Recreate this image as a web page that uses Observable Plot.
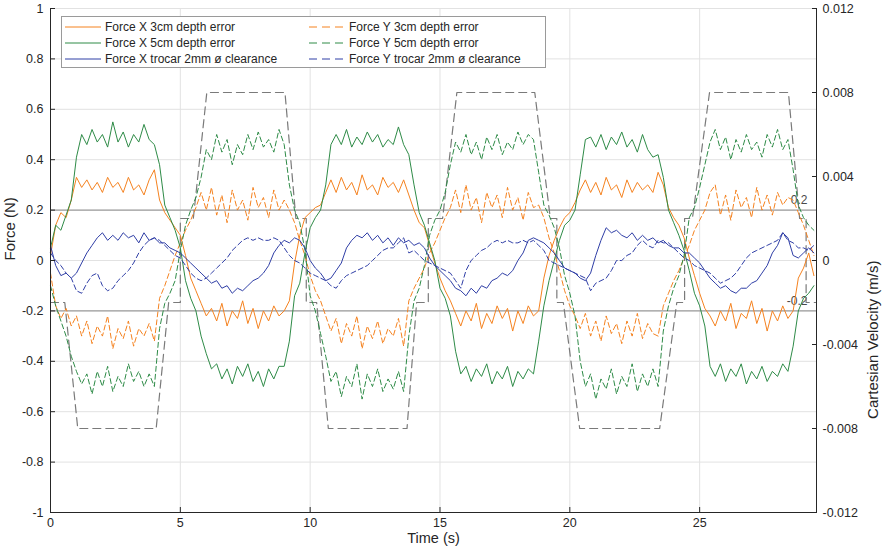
<!DOCTYPE html>
<html><head><meta charset="utf-8">
<script src="https://cdn.jsdelivr.net/npm/d3@7"></script>
<script src="https://cdn.jsdelivr.net/npm/@observablehq/plot@0.6"></script>
<style>
body{margin:0;background:#fff;font-family:"Liberation Sans",Arial,Helvetica,sans-serif;}
#wrap{position:relative;width:886px;height:553px;}
#legend{position:absolute;left:61px;top:16px;width:485px;height:52px;background:#fff;border:1px solid #9a9a9a;box-sizing:border-box;font-size:12px;color:#262626;}
.item{position:absolute;height:18px;display:flex;align-items:center;white-space:nowrap;}
.item svg{display:block;margin-right:4px;}
</style></head><body><div id="wrap"><div id="legend"></div></div>
<script>
// sampling step of the force recordings (s)
const timeStep = 0.2;

// Force X 3cm depth error (N)
const forceX3 = [
0.02,0.14,0.19,0.17,0.24,0.33,0.29,0.32,0.28,0.31,
0.27,0.33,0.29,0.31,0.27,0.33,0.28,0.3,0.26,0.32,
0.36,0.24,0.19,0.16,0.13,0.1,0.02,-0.07,-0.12,-0.17,
-0.22,-0.19,-0.24,-0.17,-0.26,-0.2,-0.23,-0.16,-0.25,-0.19,
-0.27,-0.2,-0.24,-0.18,-0.22,-0.2,-0.16,-0.01,0.1,0.17,
0.19,0.21,0.22,0.27,0.32,0.27,0.33,0.28,0.31,0.26,
0.34,0.28,0.3,0.26,0.33,0.29,0.31,0.27,0.32,0.26,
0.2,0.15,0.13,0.06,-0.01,-0.07,-0.12,-0.16,-0.21,-0.26,
-0.2,-0.24,-0.17,-0.27,-0.21,-0.25,-0.18,-0.23,-0.19,-0.28,
-0.2,-0.25,-0.18,-0.22,-0.2,-0.07,0.02,0.08,0.13,0.17,
0.19,0.23,0.28,0.32,0.27,0.31,0.26,0.33,0.28,0.3,
0.25,0.32,0.27,0.31,0.28,0.3,0.27,0.35,0.3,0.21,
0.17,0.14,0.09,0.01,-0.06,-0.13,-0.19,-0.22,-0.26,-0.2,
-0.24,-0.17,-0.27,-0.21,-0.23,-0.16,-0.25,-0.19,-0.28,-0.2,
-0.24,-0.18,-0.23,-0.2,-0.07,-0.03,0.03,-0.06];

// Force Y 3cm depth error (N)
const forceY3 = [
-0.05,-0.18,-0.23,-0.19,-0.26,-0.22,-0.3,-0.24,-0.33,-0.26,
-0.3,-0.22,-0.35,-0.27,-0.31,-0.24,-0.34,-0.27,-0.3,-0.25,
-0.32,-0.15,-0.1,-0.04,0.02,0.07,0.12,0.16,0.21,0.27,
0.2,0.29,0.18,0.26,0.15,0.28,0.2,0.24,0.16,0.29,
0.21,0.25,0.17,0.28,0.2,0.24,0.2,0.15,0.08,0.02,
-0.06,-0.12,-0.16,-0.22,-0.28,-0.23,-0.33,-0.25,-0.3,-0.22,
-0.35,-0.26,-0.31,-0.24,-0.33,-0.27,-0.3,-0.23,-0.34,-0.16,
-0.11,-0.07,-0.03,0.03,0.07,0.12,0.17,0.21,0.28,0.19,
0.3,0.2,0.25,0.15,0.27,0.21,0.26,0.17,0.29,0.2,
0.25,0.16,0.27,0.21,0.22,0.17,0.09,0.03,-0.04,-0.12,
-0.18,-0.22,-0.27,-0.21,-0.3,-0.24,-0.32,-0.22,-0.29,-0.25,
-0.33,-0.24,-0.3,-0.21,-0.31,-0.25,-0.29,-0.3,-0.18,-0.13,
-0.08,-0.04,0.01,0.06,0.12,0.16,0.2,0.27,0.3,0.18,
0.26,0.16,0.28,0.21,0.25,0.17,0.29,0.2,0.26,0.18,
0.27,0.22,0.25,0.24,0.19,0.14,0.08,0.02];

// Force X 5cm depth error (N)
const forceX5 = [
0.05,0.14,0.12,0.18,0.24,0.41,0.5,0.46,0.52,0.47,
0.5,0.45,0.55,0.47,0.51,0.45,0.5,0.47,0.54,0.48,
0.46,0.38,0.22,0.17,0.12,0.05,-0.08,-0.15,-0.2,-0.3,
-0.37,-0.43,-0.41,-0.47,-0.43,-0.49,-0.42,-0.46,-0.41,-0.48,
-0.44,-0.5,-0.43,-0.47,-0.42,-0.42,-0.32,-0.14,-0.09,0.03,
0.13,0.17,0.2,0.3,0.46,0.5,0.46,0.52,0.45,0.49,
0.46,0.51,0.47,0.5,0.45,0.48,0.46,0.53,0.46,0.42,
0.3,0.19,0.14,0.07,0.0,-0.11,-0.15,-0.22,-0.36,-0.45,
-0.42,-0.48,-0.43,-0.46,-0.41,-0.49,-0.44,-0.47,-0.42,-0.5,
-0.44,-0.47,-0.43,-0.45,-0.32,-0.18,-0.08,0.0,0.08,0.14,
0.16,0.2,0.34,0.48,0.49,0.45,0.5,0.44,0.49,0.46,
0.51,0.45,0.48,0.43,0.5,0.44,0.41,0.42,0.33,0.2,
0.15,0.1,0.04,-0.04,-0.13,-0.18,-0.26,-0.42,-0.46,-0.41,
-0.48,-0.43,-0.46,-0.41,-0.49,-0.44,-0.47,-0.42,-0.48,-0.44,
-0.46,-0.41,-0.44,-0.34,-0.2,-0.15,-0.13,-0.1];

// Force Y 5cm depth error (N)
const forceY5 = [
-0.1,-0.18,-0.24,-0.3,-0.38,-0.44,-0.49,-0.45,-0.53,-0.44,
-0.5,-0.42,-0.52,-0.46,-0.5,-0.41,-0.48,-0.44,-0.5,-0.45,
-0.5,-0.27,-0.17,-0.13,-0.08,0.04,0.14,0.2,0.25,0.33,
0.44,0.4,0.5,0.43,0.48,0.38,0.46,0.42,0.5,0.44,
0.51,0.45,0.48,0.43,0.52,0.46,0.3,0.2,0.15,0.04,
-0.14,-0.2,-0.29,-0.38,-0.48,-0.44,-0.54,-0.46,-0.5,-0.41,
-0.55,-0.45,-0.5,-0.43,-0.52,-0.47,-0.51,-0.44,-0.52,-0.3,
-0.16,-0.11,-0.02,0.1,0.16,0.2,0.27,0.38,0.47,0.43,
0.5,0.42,0.47,0.4,0.49,0.44,0.5,0.42,0.47,0.44,
0.51,0.46,0.5,0.48,0.35,0.22,0.18,0.13,0.05,-0.06,
-0.13,-0.22,-0.4,-0.5,-0.45,-0.55,-0.47,-0.51,-0.43,-0.53,
-0.46,-0.5,-0.41,-0.52,-0.45,-0.5,-0.43,-0.5,-0.28,-0.18,
-0.11,-0.06,0.02,0.17,0.21,0.29,0.38,0.47,0.52,0.44,
0.49,0.4,0.48,0.43,0.5,0.44,0.47,0.41,0.5,0.45,
0.52,0.44,0.48,0.36,0.22,0.17,0.14,0.12];

// Force X trocar 2mm clearance (N)
const forceXt = [
0.06,-0.02,-0.06,-0.05,-0.07,-0.05,-0.01,0.03,0.06,0.09,
0.11,0.08,0.1,0.08,0.11,0.09,0.1,0.07,0.11,0.08,
0.09,0.07,0.07,0.05,0.04,0.03,0.01,-0.01,-0.03,-0.05,
-0.07,-0.09,-0.08,-0.11,-0.1,-0.13,-0.11,-0.12,-0.1,-0.08,
-0.07,-0.05,-0.02,0.03,0.06,0.08,0.07,0.09,0.08,0.05,
0.0,-0.03,-0.05,-0.08,-0.07,-0.04,-0.01,0.05,0.08,0.1,
0.09,0.11,0.08,0.1,0.07,0.09,0.06,0.09,0.07,0.08,
0.06,0.07,0.05,0.01,-0.02,-0.04,-0.06,-0.08,-0.11,-0.12,
-0.14,-0.11,-0.13,-0.1,-0.11,-0.08,-0.07,-0.05,-0.06,-0.04,
0.0,0.03,0.08,0.09,0.08,0.07,0.05,0.03,0.0,-0.03,
-0.04,-0.05,-0.07,-0.08,-0.05,0.02,0.08,0.13,0.11,0.12,
0.1,0.09,0.11,0.08,0.1,0.08,0.09,0.07,0.08,0.06,
0.05,0.05,0.03,0.03,0.01,-0.01,-0.04,-0.07,-0.09,-0.11,
-0.1,-0.12,-0.13,-0.11,-0.11,-0.09,-0.08,-0.05,-0.02,0.03,
0.06,0.11,0.09,0.02,0.01,0.03,0.05,0.03];

// Force Y trocar 2mm clearance (N)
const forceYt = [
0.03,0.0,-0.02,-0.05,-0.07,-0.12,-0.13,-0.09,-0.06,-0.05,
-0.1,-0.12,-0.11,-0.08,-0.06,-0.04,-0.01,0.03,0.06,0.08,
0.09,0.08,0.06,0.04,0.02,0.01,-0.02,-0.05,-0.07,-0.08,
-0.07,-0.05,-0.03,-0.01,0.01,0.04,0.06,0.08,0.09,0.08,
0.09,0.08,0.08,0.09,0.08,0.05,0.02,0.0,-0.01,-0.03,
-0.05,-0.06,-0.07,-0.08,-0.1,-0.11,-0.08,-0.06,-0.05,-0.04,
-0.03,-0.02,0.0,0.02,0.04,0.05,0.05,0.07,0.09,0.03,
0.04,0.02,0.0,-0.01,-0.02,-0.03,-0.04,-0.05,-0.08,-0.11,
-0.04,0.0,0.02,0.04,0.05,0.07,0.08,0.07,0.08,0.07,
0.07,0.08,0.07,0.08,0.06,0.04,0.0,-0.01,-0.02,-0.03,
-0.04,-0.05,-0.06,-0.07,-0.12,-0.09,-0.08,-0.07,-0.04,0.0,
0.0,0.02,0.03,0.06,0.08,0.06,0.05,0.08,0.07,0.07,
0.05,0.03,0.01,0.0,-0.02,-0.03,-0.04,-0.05,-0.07,-0.09,
-0.08,-0.07,-0.05,-0.02,0.01,0.03,0.04,0.05,0.06,0.07,
0.08,0.11,0.08,0.07,0.05,0.05,0.04,0.06];

// Cartesian velocity command (m/s): breakpoint times and values
const velTime = [0,0.55,1.05,4.07,4.55,5.0,5.0,5.5,6.02,9.03,9.45,9.85,9.85,10.25,10.7,13.73,14.1,14.55,14.55,15.1,15.65,18.65,19.25,19.5,19.5,19.75,20.38,23.46,24.12,24.42,24.42,24.72,25.38,28.42,28.85,29.1,29.1,29.5];
const velValue = [-0.002,-0.002,-0.008,-0.008,-0.002,-0.002,0.002,0.002,0.008,0.008,0.002,0.002,-0.002,-0.002,-0.008,-0.008,-0.002,-0.002,0.002,0.002,0.008,0.008,0.002,0.002,-0.002,-0.002,-0.008,-0.008,-0.002,-0.002,0.002,0.002,0.008,0.008,0.002,0.002,-0.002,-0.002];

// axes
const xDomain = [0, 29.5];
const yDomain = [-1, 1];
const xTicks = [0, 5, 10, 15, 20, 25];
const yTicks = [-1, -0.8, -0.6, -0.4, -0.2, 0, 0.2, 0.4, 0.6, 0.8, 1];
const velTicks = [-0.012, -0.008, -0.004, 0, 0.004, 0.008, 0.012];
const velMax = 0.012; // right-axis limit matching left-axis limit 1
const thresholds = [0.2, -0.2];

const seriesDefs = [
  {name: "Force X 3cm depth error", values: forceX3, color: "#F5821F", dash: null},
  {name: "Force Y 3cm depth error", values: forceY3, color: "#F5821F", dash: "5,3"},
  {name: "Force X 5cm depth error", values: forceX5, color: "#2E8B47", dash: null},
  {name: "Force Y 5cm depth error", values: forceY5, color: "#2E8B47", dash: "5,3"},
  {name: "Force X trocar 2mm ø clearance", values: forceXt, color: "#2F3EA6", dash: null},
  {name: "Force Y trocar 2mm ø clearance", values: forceYt, color: "#2F3EA6", dash: "5,3"}
];

const velRows = velTime.map((t, i) => ({t, y: velValue[i] / velMax}));
const fmtY = d => String(+d.toFixed(1));
const fmtV = d => String(+(d * velMax).toFixed(3));

const lineMarks = seriesDefs.map(s => Plot.line(
  s.values.map((v, i) => ({t: +(i * timeStep).toFixed(1), f: v})),
  {x: "t", y: "f", stroke: s.color, strokeWidth: 1, strokeDasharray: s.dash || undefined, strokeLinejoin: "round"}
));

const chart = Plot.plot({
  width: 886, height: 553,
  marginLeft: 50, marginRight: 70, marginTop: 8, marginBottom: 41,
  style: {fontFamily: "'Liberation Sans', Arial, Helvetica, sans-serif", fontSize: "12.5px", color: "#262626", background: "#fff"},
  x: {domain: xDomain},
  y: {domain: yDomain},
  marks: [
    Plot.gridX(xTicks, {stroke: "#e2e2e2", strokeOpacity: 1}),
    Plot.gridY(yTicks, {stroke: "#e2e2e2", strokeOpacity: 1}),
    Plot.ruleY(thresholds, {stroke: "#8a8a8a", strokeWidth: 1}),
    Plot.text(thresholds, {y: d => d, frameAnchor: "right", text: d => String(d), textAnchor: "end", dx: -9, dy: -10, fontSize: 12, fill: "#4a4a4a"}),
    Plot.line(velRows, {x: "t", y: "y", stroke: "#7a7a7a", strokeWidth: 1.2, strokeDasharray: "8,5"}),
    ...lineMarks,
    Plot.ruleX([xDomain[0]], {stroke: "#262626"}),
    Plot.ruleX([xDomain[1]], {stroke: "#262626"}),
    Plot.ruleY([yDomain[0]], {stroke: "#262626"}),
    Plot.axisX(xTicks, {tickSize: -5, tickPadding: 11, tickFormat: d => String(d), label: null}),
    Plot.axisY(yTicks, {anchor: "left", tickSize: -5, tickPadding: 12, tickFormat: fmtY, label: null}),
    Plot.axisY(velTicks.map(v => v / velMax), {anchor: "right", tickSize: -5, tickPadding: 11, tickFormat: fmtV, label: null}),
    Plot.text(["Force (N)"], {frameAnchor: "left", text: d => d, dx: -40, rotate: -90, fontSize: 15}),
    Plot.text(["Time (s)"], {frameAnchor: "bottom", text: d => d, dy: 30, fontSize: 14.5}),
    Plot.text(["Cartesian Velocity (m/s)"], {frameAnchor: "right", text: d => d, dx: 57, rotate: -90, fontSize: 15})
  ]
});
const wrap = document.getElementById("wrap");
wrap.insertBefore(chart, wrap.firstChild);

// legend (two columns, filled row-wise like the original)
const legend = document.getElementById("legend");
seriesDefs.forEach((s, i) => {
  const col = i % 2, row = Math.floor(i / 2);
  const item = document.createElement("div");
  item.className = "item";
  item.style.left = (col === 0 ? 3 : 247) + "px";
  item.style.top = (0.5 + row * 16.2) + "px";
  const ns = "http://www.w3.org/2000/svg";
  const svg = document.createElementNS(ns, "svg");
  svg.setAttribute("width", 36); svg.setAttribute("height", 4);
  const ln = document.createElementNS(ns, "line");
  ln.setAttribute("x1", 0); ln.setAttribute("x2", 36); ln.setAttribute("y1", 2); ln.setAttribute("y2", 2);
  ln.setAttribute("stroke", s.color); ln.setAttribute("stroke-width", 1);
  if (s.dash) ln.setAttribute("stroke-dasharray", "8,5");
  svg.appendChild(ln);
  item.appendChild(svg);
  const span = document.createElement("span");
  span.textContent = s.name;
  item.appendChild(span);
  legend.appendChild(item);
});
</script></body></html>
